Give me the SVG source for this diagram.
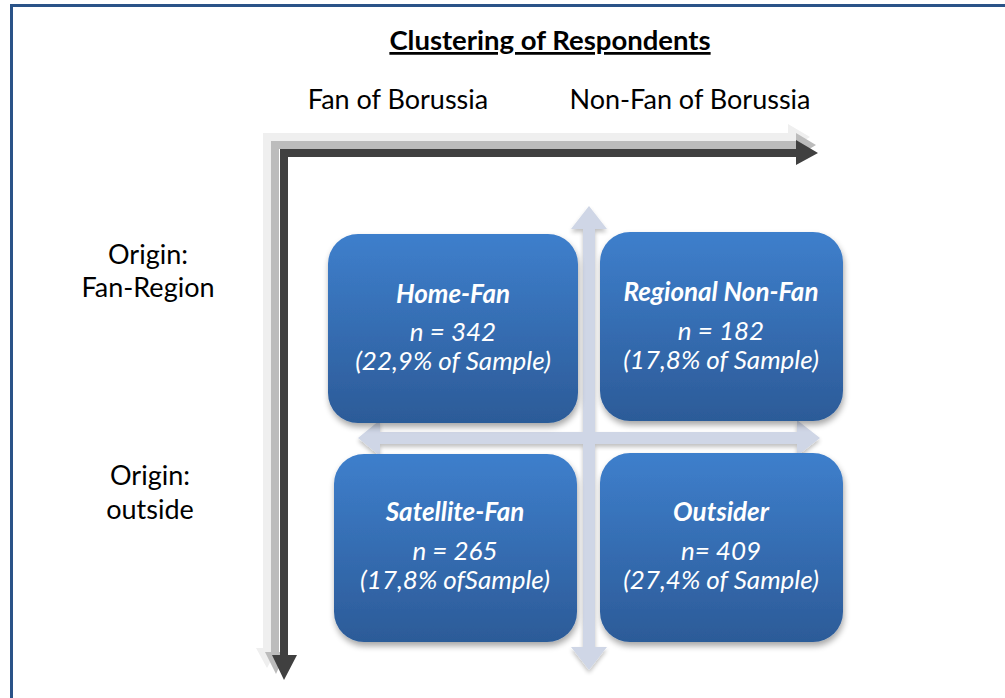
<svg xmlns="http://www.w3.org/2000/svg" width="1005" height="698" viewBox="0 0 1005 698">
<defs>
<linearGradient id="boxg" x1="0" y1="0" x2="0" y2="1">
<stop offset="0" stop-color="#3e7fcc"/>
<stop offset="1" stop-color="#2c5b98"/>
</linearGradient>
<filter id="sh" x="-10%" y="-10%" width="125%" height="130%">
<feGaussianBlur in="SourceAlpha" stdDeviation="3"/>
<feOffset dx="1" dy="4" result="b"/>
<feComponentTransfer><feFuncA type="linear" slope="0.35"/></feComponentTransfer>
<feMerge><feMergeNode/><feMergeNode in="SourceGraphic"/></feMerge>
</filter>
<filter id="sh2" x="-10%" y="-10%" width="125%" height="130%">
<feGaussianBlur in="SourceAlpha" stdDeviation="2"/>
<feOffset dx="0" dy="3" result="b"/>
<feComponentTransfer><feFuncA type="linear" slope="0.25"/></feComponentTransfer>
<feMerge><feMergeNode/><feMergeNode in="SourceGraphic"/></feMerge>
</filter>
</defs>
<style>
.lbl{font-family:Lato,"Open Sans",sans-serif;fill:#000;font-size:27px;text-anchor:middle}
.title{font-family:Lato,"Open Sans",sans-serif;font-weight:bold;font-size:27.5px;text-anchor:middle;text-decoration:underline}
.box{fill:url(#boxg);filter:url(#sh)}
.bt{font-family:Lato,"Open Sans",sans-serif;fill:#fff;font-style:italic;font-size:26px;text-anchor:middle}
.bh{font-weight:bold}
.cross{fill:#cfd6e6}
</style>
<rect x="11.5" y="5.5" width="1010" height="710" fill="#fff" stroke="#2a5388" stroke-width="3"/>
<text class="title" x="550" y="50">Clustering of Respondents</text>
<text class="lbl" x="398" y="109">Fan of Borussia</text>
<text class="lbl" x="690" y="109">Non-Fan of Borussia</text>
<text class="lbl" x="148" y="264">Origin:</text>
<text class="lbl" x="148" y="297">Fan-Region</text>
<text class="lbl" x="150" y="485">Origin:</text>
<text class="lbl" x="150" y="519">outside</text>
<g id="connectors">
<g id="axes">
<path fill="#efefef" d="M263 133 L788 133 L788 124 L810 137 L788 150 L788 141 L271 141 L271 648 L278 648 L267 668 L256 648 L263 648 Z"/>
<path fill="#bcbcbc" d="M271 141 L796 141 L796 133 L816 145 L796 157 L796 149 L279 149 L279 652 L286 652 L276 674 L265 652 L271 652 Z"/>
<path fill="#404040" d="M280 149 L796 149 L796 140 L818 153 L796 165 L796 157 L288 157 L288 655 L297 655 L284 680 L272 655 L280 655 Z"/>
</g>
<g id="cross" filter="url(#sh2)">
<path class="cross" d="M583 229 L571 229 L589 206 L607 229 L595 229 L595 432 L797 432 L797 420 L820 438 L797 456 L797 444 L595 444 L595 647 L607 647 L589 670 L571 647 L583 647 L583 444 L380 444 L380 456 L358 438 L380 420 L380 432 L583 432 Z"/>
</g>
</g>
<g id="home-fan">
<rect class="box" x="328" y="234" width="250" height="189" rx="30"/>
<text class="bt bh" x="453" y="303">Home-Fan</text>
<text class="bt" x="453" y="341">n = 342</text>
<text class="bt" x="453" y="370">(22,9% of Sample)</text>
</g>
<g id="regional-non-fan">
<rect class="box" x="600" y="232" width="243" height="189" rx="30"/>
<text class="bt bh" x="721" y="301">Regional Non-Fan</text>
<text class="bt" x="721" y="340">n = 182</text>
<text class="bt" x="721" y="369">(17,8% of Sample)</text>
</g>
<g id="satellite-fan">
<rect class="box" x="334" y="454" width="243" height="188" rx="30"/>
<text class="bt bh" x="455" y="521">Satellite-Fan</text>
<text class="bt" x="455" y="560">n = 265</text>
<text class="bt" x="455" y="589">(17,8% ofSample)</text>
</g>
<g id="outsider">
<rect class="box" x="600" y="453" width="243" height="189" rx="30"/>
<text class="bt bh" x="721" y="521">Outsider</text>
<text class="bt" x="721" y="560">n= 409</text>
<text class="bt" x="721" y="589">(27,4% of Sample)</text>
</g>
</svg>
